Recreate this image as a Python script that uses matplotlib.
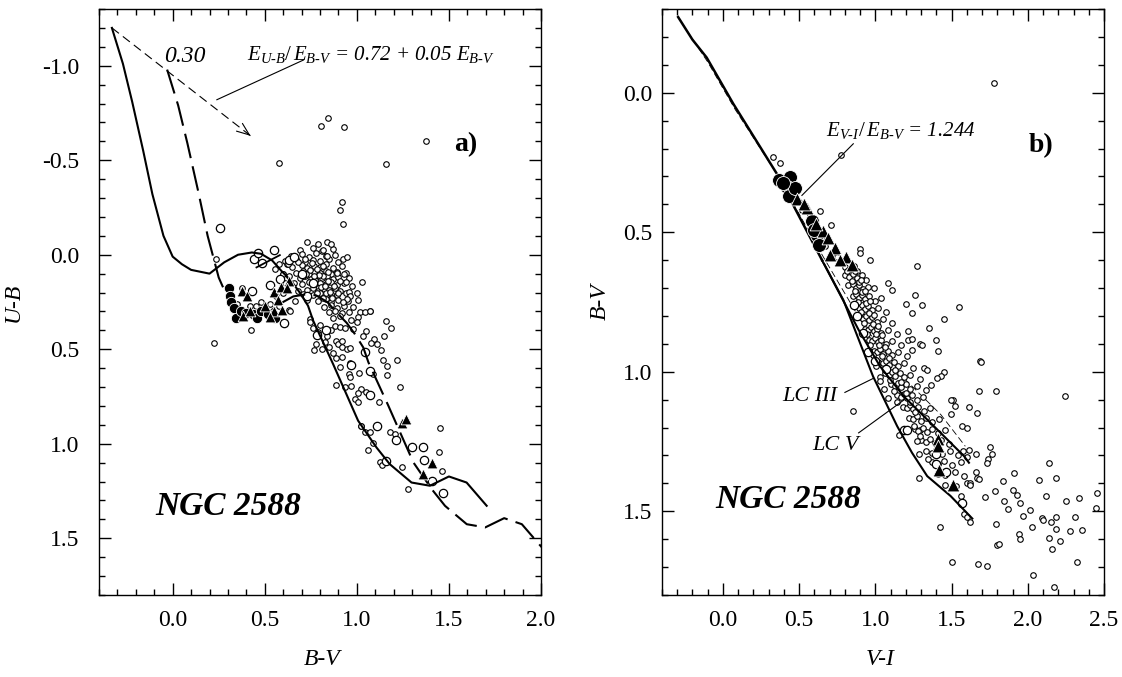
import matplotlib
matplotlib.use('Agg')
import matplotlib.pyplot as plt
from matplotlib.ticker import MultipleLocator, FormatStrFormatter

plt.rcParams['font.family'] = ['Liberation Serif', 'DejaVu Serif']
plt.rcParams['mathtext.fontset'] = 'custom'
plt.rcParams['mathtext.rm'] = 'Liberation Serif'
plt.rcParams['mathtext.it'] = 'Liberation Serif:italic'
plt.rcParams['mathtext.bf'] = 'Liberation Serif:bold'
plt.rcParams['axes.unicode_minus'] = False

# ---------------- Panel a data (B-V, U-B) ----------------
E_BV = 0.30
zams_bv = [-0.33, -0.27, -0.22, -0.16, -0.11, -0.05, 0.00, 0.05, 0.10, 0.20, 0.28, 0.355, 0.43, 0.48,
           0.54, 0.59, 0.645, 0.69, 0.735, 0.763, 0.871, 1.007, 1.107, 1.179, 1.297, 1.397, 1.50, 1.596, 1.705]
zams_ub = [-1.20, -1.01, -0.81, -0.55, -0.32, -0.10, 0.01, 0.05, 0.08, 0.10, 0.04, 0.00, -0.012, -0.005,
           0.03, 0.085, 0.14, 0.20, 0.27, 0.349, 0.578, 0.878, 1.02, 1.108, 1.205, 1.222, 1.173, 1.205, 1.328]
extra_seg_bv = [0.455, 0.582]
extra_seg_ub = [0.067, 0.002]
arrow_start = (-0.33, -1.20)
arrow_end = (0.435, -0.62)

a_open_small = [
    (0.578, -0.485), (0.804, -0.679), (0.844, -0.723), (0.933, -0.674), (1.156, -0.478), (1.373, -0.601),
    (0.920, -0.280), (0.911, -0.238), (0.926, -0.160), (0.859, -0.055), (0.817, -0.025), (0.840, 0.005),
    (0.225, 0.467), (0.234, 0.023), (0.428, 0.400), (0.379, 0.176), (0.632, 0.293),
    (1.027, 0.146), (1.000, 0.205), (1.007, 0.240), (1.074, 0.300), (0.975, 0.168), (0.940, 0.146),
    (0.893, 0.097), (0.958, 0.196), (0.962, 0.217), (0.947, 0.235), (0.926, 0.252), (0.980, 0.279),
    (0.957, 0.302), (1.016, 0.302), (1.045, 0.305), (1.071, 0.300), (1.004, 0.331), (0.971, 0.345),
    (0.926, 0.023), (0.947, 0.014), (0.663, 0.243), (0.636, 0.296), (0.745, 0.340),
    (0.744, 0.358), (0.766, 0.504), (0.826, 0.459), (0.880, 0.379), (0.908, 0.384), (0.935, 0.388),
    (0.980, 0.393), (1.002, 0.358), (1.049, 0.402), (1.031, 0.429), (1.093, 0.446), (1.076, 0.469),
    (1.111, 0.473), (1.149, 0.429), (1.183, 0.388), (1.156, 0.353), (1.131, 0.505), (1.143, 0.557),
    (1.216, 0.557), (1.165, 0.587), (1.165, 0.635), (1.236, 0.702), (1.122, 0.781), (0.889, 0.455),
    (0.899, 0.473), (0.917, 0.455), (0.917, 0.490), (0.944, 0.499), (0.962, 0.494), (0.889, 0.548),
    (0.920, 0.543), (0.908, 0.592), (0.962, 0.575), (0.958, 0.631), (0.962, 0.649), (1.013, 0.628),
    (1.089, 0.632), (0.889, 0.689), (0.935, 0.698), (0.967, 0.693), (1.020, 0.710), (1.049, 0.725),
    (1.009, 0.734), (0.989, 0.764), (1.007, 0.778), (1.025, 0.905), (1.044, 0.940), (1.071, 0.940),
    (1.179, 0.940), (1.208, 0.949), (1.090, 0.998), (1.060, 1.032), (1.128, 1.099), (1.139, 1.111),
    (1.243, 1.125), (1.279, 1.240), (1.447, 1.042), (1.465, 1.146), (1.451, 0.919), (1.022, 0.907),
    (0.760, 0.390), (0.790, 0.410), (0.800, 0.370), (0.840, 0.430), (0.860, 0.400), (0.780, 0.470),
    (0.810, 0.500), (0.850, 0.490), (0.870, 0.520),
    (0.350, 0.260), (0.450, 0.270), (0.480, 0.250), (0.530, 0.260), (0.560, 0.220), (0.580, 0.270),
    (0.600, 0.200), (0.500, 0.290), (0.420, 0.270), (0.554, 0.074), (0.609, 0.150), (0.627, 0.050),
    (0.580, 0.050), (0.600, 0.100),
]
a_cluster = [
    (0.73, -0.065), (0.79, -0.055), (0.84, -0.07),
    (0.69, -0.025), (0.76, -0.035), (0.81, -0.02), (0.87, -0.03),
    (0.64, 0.005), (0.70, -0.005), (0.74, 0.01), (0.78, -0.01), (0.83, 0.005), (0.88, 0.0),
    (0.61, 0.035), (0.67, 0.025), (0.72, 0.04), (0.76, 0.03), (0.80, 0.035), (0.85, 0.025), (0.90, 0.04),
    (0.65, 0.065), (0.70, 0.055), (0.73, 0.07), (0.77, 0.06), (0.80, 0.065), (0.83, 0.05), (0.87, 0.07), (0.92, 0.06),
    (0.67, 0.095), (0.71, 0.085), (0.74, 0.10), (0.77, 0.09), (0.80, 0.095), (0.83, 0.085), (0.86, 0.10),
    (0.89, 0.09), (0.94, 0.095),
    (0.69, 0.125), (0.72, 0.115), (0.75, 0.13), (0.78, 0.12), (0.81, 0.125), (0.84, 0.115), (0.87, 0.13),
    (0.90, 0.12), (0.96, 0.125),
    (0.70, 0.155), (0.74, 0.145), (0.77, 0.16), (0.80, 0.15), (0.83, 0.155), (0.86, 0.145), (0.89, 0.16), (0.93, 0.15),
    (0.73, 0.185), (0.76, 0.175), (0.79, 0.19), (0.82, 0.18), (0.85, 0.185), (0.88, 0.175), (0.91, 0.19),
    (0.76, 0.215), (0.80, 0.205), (0.83, 0.22), (0.86, 0.21), (0.89, 0.215), (0.94, 0.205),
    (0.79, 0.245), (0.83, 0.235), (0.86, 0.25), (0.90, 0.24), (0.95, 0.245),
    (0.82, 0.275), (0.86, 0.265), (0.89, 0.28), (0.93, 0.27),
    (0.85, 0.305), (0.88, 0.295), (0.92, 0.31),
    (0.87, 0.335), (0.91, 0.325),
    (0.755, 0.045), (0.785, 0.075), (0.815, 0.11), (0.845, 0.14), (0.775, 0.135), (0.805, 0.17),
    (0.835, 0.20), (0.745, 0.08), (0.795, 0.105), (0.825, 0.165), (0.855, 0.195), (0.865, 0.23),
    (0.875, 0.165), (0.725, 0.10), (0.705, 0.11), (0.815, 0.06), (0.765, 0.11), (0.845, 0.09),
    (0.785, 0.20), (0.815, 0.23), (0.68, 0.04), (0.72, 0.02), (0.90, 0.20), (0.91, 0.14), (0.93, 0.10),
    (0.62, 0.05), (0.60, 0.10), (0.63, 0.11), (0.66, 0.15), (0.68, 0.19), (0.71, 0.21), (0.73, 0.24),
]
a_open_large = [
    (0.255, -0.140), (0.551, -0.026), (0.442, 0.023), (0.464, -0.007), (0.485, 0.044), (0.527, 0.159),
    (0.431, 0.194), (0.605, 0.363), (0.629, 0.028), (0.582, 0.129), (0.781, 0.423), (0.832, 0.397),
    (0.971, 0.584), (1.071, 0.614), (1.074, 0.741), (1.111, 0.905), (1.215, 0.980), (1.158, 1.090),
    (1.297, 1.019), (1.360, 1.016), (1.364, 1.086), (1.409, 1.196), (1.469, 1.258), (1.044, 0.513),
    (0.70, 0.10), (0.76, 0.15), (0.73, 0.22), (0.66, 0.01),
]
a_filled = [
    (0.306, 0.176), (0.313, 0.220), (0.319, 0.252), (0.332, 0.282), (0.346, 0.332), (0.373, 0.296),
    (0.400, 0.310), (0.437, 0.314), (0.460, 0.332), (0.477, 0.300), (0.518, 0.314), (0.554, 0.337),
]
a_tri = [
    (0.377, 0.194), (0.404, 0.220), (0.382, 0.323), (0.422, 0.296), (0.504, 0.270), (0.550, 0.300),
    (0.551, 0.196), (0.573, 0.240), (0.530, 0.330), (0.596, 0.293), (0.629, 0.138), (0.587, 0.169),
    (0.623, 0.178), (1.243, 0.892), (1.266, 0.869), (1.409, 1.104), (1.357, 1.160),
]

# ---------------- Panel b data (V-I, B-V) ----------------
seq_vi = [-0.294, -0.20, -0.107, 0.068, 0.353, 0.65]
seq_bv = [-0.271, -0.19, -0.126, 0.040, 0.290, 0.60]
lc3_vi = [0.65, 0.79, 0.866, 0.985, 1.143, 1.24, 1.34, 1.493, 1.636]
lc3_bv = [0.60, 0.743, 0.85, 1.017, 1.195, 1.29, 1.374, 1.445, 1.526]
lc5_vi = [0.65, 0.89, 1.03, 1.186, 1.406, 1.581, 1.614]
lc5_bv = [0.60, 0.85, 0.98, 1.088, 1.207, 1.302, 1.326]
thin_vi = [-0.27, -0.10, 0.08, 0.34, 0.66, 0.93, 1.20, 1.43, 1.59]
thin_bv = [-0.25, -0.11, 0.06, 0.28, 0.59, 0.84, 1.03, 1.154, 1.267]

b_open_small = [
    (0.331, 0.229), (0.375, 0.252), (0.634, 0.425), (0.708, 0.473), (0.897, 0.559), (0.897, 0.573),
    (0.966, 0.600), (1.081, 0.681), (1.112, 0.707), (1.274, 0.621), (1.257, 0.725), (0.774, 0.223),
    (1.775, -0.035), (2.245, 1.088),
    (1.204, 0.757), (1.309, 0.762), (1.241, 0.788), (1.548, 0.769), (1.450, 0.811), (1.353, 0.844),
    (1.397, 0.886), (1.213, 0.853), (1.215, 0.886), (1.243, 0.882), (1.291, 0.900), (1.309, 0.904),
    (1.414, 0.924), (1.241, 0.922), (1.684, 0.961), (1.695, 0.965), (1.789, 1.069), (1.680, 1.069),
    (1.616, 1.126), (1.669, 1.148), (1.450, 1.000), (1.428, 1.015), (1.406, 1.023), (1.366, 1.047),
    (1.318, 0.987), (1.340, 0.995), (1.511, 1.100), (1.493, 1.102), (1.522, 1.124), (1.493, 1.153),
    (1.570, 1.195), (1.599, 1.201), (1.033, 1.032), (0.855, 1.139),
    (1.752, 1.269), (1.768, 1.293), (1.739, 1.314), (1.735, 1.326), (2.141, 1.326), (2.075, 1.387),
    (2.184, 1.381), (1.840, 1.392), (1.910, 1.362), (1.787, 1.426), (1.717, 1.450), (1.906, 1.425),
    (1.927, 1.440), (1.844, 1.464), (1.871, 1.492), (1.951, 1.470), (2.015, 1.494), (1.967, 1.517),
    (2.120, 1.447), (2.248, 1.462), (2.336, 1.451), (2.452, 1.436), (2.445, 1.488), (2.309, 1.519),
    (2.184, 1.522), (2.096, 1.523), (2.100, 1.530), (2.153, 1.540), (2.182, 1.562), (2.136, 1.594),
    (2.212, 1.605), (2.274, 1.571), (2.357, 1.568), (2.029, 1.556), (1.943, 1.580), (1.950, 1.600),
    (1.800, 1.621), (1.811, 1.618), (1.794, 1.545), (2.160, 1.634), (1.423, 1.556), (1.504, 1.683),
    (1.673, 1.689), (1.730, 1.695), (2.322, 1.683), (2.035, 1.729), (2.169, 1.770),
    (1.660, 1.293), (1.603, 1.307), (1.614, 1.282), (1.575, 1.284), (1.669, 1.380), (1.680, 1.386),
    (1.658, 1.359), (1.620, 1.398), (1.620, 1.406), (1.560, 1.445), (1.582, 1.511), (1.599, 1.519),
    (1.618, 1.538), (1.289, 1.382), (1.289, 1.294), (1.348, 1.312), (1.154, 1.225), (1.252, 1.195),
    (1.281, 1.213), (1.292, 1.231), (1.270, 1.249),
    (0.50, 0.39), (0.52, 0.42), (0.57, 0.44), (0.64, 0.52), (0.67, 0.55), (0.72, 0.57), (0.75, 0.59),
]
b_band = [
    (0.80, 0.625), (0.83, 0.63), (0.86, 0.62), (0.88, 0.64),
    (0.80, 0.655), (0.83, 0.66), (0.85, 0.65), (0.88, 0.665), (0.91, 0.655), (0.94, 0.67),
    (0.82, 0.69), (0.85, 0.685), (0.87, 0.70), (0.89, 0.69), (0.92, 0.705), (0.95, 0.695), (0.99, 0.70),
    (0.85, 0.73), (0.87, 0.72), (0.89, 0.735), (0.91, 0.725), (0.93, 0.74), (0.96, 0.73), (1.00, 0.745), (1.04, 0.735),
    (0.87, 0.765), (0.89, 0.77), (0.91, 0.76), (0.93, 0.775), (0.95, 0.765), (0.98, 0.78), (1.02, 0.77), (1.07, 0.785),
    (0.90, 0.805), (0.92, 0.81), (0.94, 0.80), (0.96, 0.815), (0.98, 0.805), (1.01, 0.82), (1.05, 0.81), (1.11, 0.825),
    (0.93, 0.845), (0.95, 0.85), (0.97, 0.84), (0.99, 0.855), (1.01, 0.845), (1.04, 0.86), (1.08, 0.85), (1.14, 0.865),
    (0.96, 0.885), (0.98, 0.89), (1.00, 0.88), (1.02, 0.895), (1.04, 0.885), (1.07, 0.90), (1.11, 0.89), (1.17, 0.905),
    (0.99, 0.925), (1.01, 0.93), (1.03, 0.92), (1.05, 0.935), (1.08, 0.925), (1.11, 0.94), (1.15, 0.93), (1.21, 0.945),
    (1.02, 0.965), (1.05, 0.97), (1.07, 0.96), (1.09, 0.975), (1.12, 0.965), (1.15, 0.98), (1.19, 0.97), (1.25, 0.985),
    (1.06, 1.005), (1.09, 1.01), (1.11, 1.00), (1.13, 1.015), (1.16, 1.005), (1.19, 1.02), (1.23, 1.01), (1.29, 1.025),
    (1.10, 1.045), (1.13, 1.05), (1.15, 1.04), (1.17, 1.055), (1.20, 1.045), (1.23, 1.06), (1.27, 1.05), (1.33, 1.065),
    (1.14, 1.085), (1.17, 1.09), (1.19, 1.08), (1.21, 1.095), (1.24, 1.085), (1.27, 1.10), (1.31, 1.09),
    (1.18, 1.125), (1.21, 1.13), (1.23, 1.12), (1.25, 1.135), (1.28, 1.125), (1.32, 1.14), (1.36, 1.13),
    (1.22, 1.165), (1.25, 1.17), (1.27, 1.16), (1.30, 1.175), (1.33, 1.165), (1.37, 1.18), (1.42, 1.17),
    (1.26, 1.205), (1.29, 1.21), (1.31, 1.20), (1.34, 1.215), (1.37, 1.205), (1.41, 1.22), (1.46, 1.21),
    (1.30, 1.245), (1.33, 1.25), (1.36, 1.24), (1.39, 1.255), (1.43, 1.245), (1.48, 1.26),
    (1.33, 1.285), (1.37, 1.29), (1.40, 1.28), (1.44, 1.295), (1.49, 1.285), (1.54, 1.30),
    (1.37, 1.325), (1.41, 1.33), (1.45, 1.32), (1.50, 1.335), (1.56, 1.325),
    (1.41, 1.365), (1.46, 1.37), (1.52, 1.36), (1.58, 1.375),
    (1.46, 1.405), (1.53, 1.41), (1.60, 1.40),
    (0.815, 0.64), (0.845, 0.675), (0.865, 0.71), (0.885, 0.75), (0.905, 0.785), (0.925, 0.825),
    (0.945, 0.865), (0.965, 0.905), (0.985, 0.94), (1.005, 0.98), (1.03, 1.02), (1.055, 1.06),
    (1.08, 1.095), (0.865, 0.64), (0.895, 0.68), (0.915, 0.715), (0.94, 0.755), (0.96, 0.79),
    (0.985, 0.83), (1.005, 0.865), (1.025, 0.905), (1.045, 0.945), (1.07, 0.985), (1.095, 1.03),
    (1.12, 1.07), (1.145, 1.11), (0.905, 0.67), (0.935, 0.71), (0.965, 0.745), (0.99, 0.795),
    (1.02, 0.835), (1.045, 0.87), (1.065, 0.91), (1.09, 0.95), (1.13, 0.995), (1.17, 1.035),
    (1.20, 1.075), (1.23, 1.11), (1.26, 1.145),
]
b_open_large = [
    (0.86, 0.76), (0.88, 0.80), (0.92, 0.86), (0.95, 0.93), (1.00, 0.96), (1.07, 0.99), (1.19, 1.21),
    (1.21, 1.21), (1.571, 1.469), (1.395, 1.296), (1.461, 1.360), (1.40, 1.33),
]
b_filled = [
    (0.370, 0.312), (0.441, 0.302), (0.419, 0.338), (0.430, 0.371), (0.474, 0.340), (0.583, 0.459),
    (0.616, 0.511), (0.629, 0.546), (0.599, 0.493), (0.395, 0.325),
]
b_tri = [
    (0.485, 0.380), (0.553, 0.412), (0.530, 0.398), (0.656, 0.496), (0.686, 0.519), (0.737, 0.558),
    (0.700, 0.582), (0.809, 0.588), (0.847, 0.618), (0.770, 0.600), (0.610, 0.470),
    (1.410, 1.240), (1.410, 1.265), (1.417, 1.352), (1.511, 1.407),
]


def xs(pts):
    return [p[0] for p in pts]


def ys(pts):
    return [p[1] for p in pts]


fig = plt.figure(figsize=(11.22, 6.77), dpi=100)
W, H = 1122.0, 677.0
axA = fig.add_axes([99 / W, 1 - 595 / H, 442 / W, 586 / H])
axB = fig.add_axes([662 / W, 1 - 595 / H, 442 / W, 586 / H])


def style(ax, ypad):
    ax.xaxis.set_major_locator(MultipleLocator(0.5))
    ax.xaxis.set_minor_locator(MultipleLocator(0.1))
    ax.yaxis.set_major_locator(MultipleLocator(0.5))
    ax.yaxis.set_minor_locator(MultipleLocator(0.1))
    ax.xaxis.set_major_formatter(FormatStrFormatter('%.1f'))
    ax.yaxis.set_major_formatter(FormatStrFormatter('%.1f'))
    ax.tick_params(which='both', direction='in', top=True, right=True, width=1.0, labelsize=17)
    ax.tick_params(which='major', length=8.5)
    ax.tick_params(which='minor', length=4.3)
    ax.tick_params(axis='x', pad=11)
    ax.tick_params(axis='y', pad=ypad)
    for s in ax.spines.values():
        s.set_linewidth(1.0)


def open_pts(ax, pts, s, lw=0.8, z=2):
    ax.scatter(xs(pts), ys(pts), s=s, facecolors='white', edgecolors='black', linewidths=lw, zorder=z)


# ---------------- Panel a ----------------
ax = axA
ax.set_xlim(-0.4, 2.0)
ax.set_ylim(1.8, -1.3)
style(ax, 14)

ax.plot(zams_bv, zams_ub, color='black', lw=1.5, zorder=3)
E_UB = E_BV * (0.72 + 0.05 * E_BV)
ax.plot([v + E_BV for v in zams_bv], [u + E_UB for u in zams_ub], color='black', lw=1.5,
        dashes=(12, 4), zorder=3)
ax.plot(extra_seg_bv, extra_seg_ub, color='black', lw=1.3, zorder=3)
ax.plot([arrow_start[0], arrow_end[0]], [arrow_start[1], arrow_end[1]], color='black', lw=0.8,
        dashes=(8, 4.5), zorder=3)
ax.annotate('', xy=arrow_end, xytext=(arrow_end[0] - 0.04, arrow_end[1] - 0.03),
            arrowprops=dict(arrowstyle='->,head_length=0.9,head_width=0.35', lw=0.8, color='black'))
ax.plot([0.71, 0.24], [-1.03, -0.82], color='black', lw=0.8)

open_pts(ax, a_cluster, 16)
open_pts(ax, a_open_small, 16)
open_pts(ax, a_open_large, 36, 0.9)
ax.scatter(xs(a_filled), ys(a_filled), s=55, c='black', edgecolors='white', linewidths=0.6, zorder=4)
ax.scatter(xs(a_tri), ys(a_tri), s=60, marker='^', c='black', edgecolors='white', linewidths=0.6, zorder=4)

ax.text(0.065, -1.05, '0.30', fontsize=17, style='italic', ha='center', va='center')
ax.text(1.076, -1.06, r'$E_{U\text{-}B}/\,E_{B\text{-}V}$ = 0.72 + 0.05 $E_{B\text{-}V}$', fontsize=15,
        style='italic', ha='center', va='center')
ax.text(1.59, -0.58, 'a)', fontsize=20, weight='bold', ha='center', va='center')
ax.text(0.30, 1.33, 'NGC 2588', fontsize=24, weight='bold', style='italic', ha='center', va='center')
ax.set_xlabel('B-V', fontsize=17, style='italic')
ax.set_ylabel('U-B', fontsize=17, style='italic')
ax.xaxis.set_label_coords(0.505, -0.092)
ax.yaxis.set_label_coords(-0.17, 0.5)

# ---------------- Panel b ----------------
ax = axB
ax.set_xlim(-0.4, 2.5)
ax.set_ylim(1.8, -0.3)
style(ax, 7)

ax.plot(thin_vi, thin_bv, color='black', lw=0.6, dashes=(8, 4), zorder=1)
ax.plot(seq_vi, seq_bv, color='black', lw=1.8, zorder=3)
ax.plot(lc3_vi, lc3_bv, color='black', lw=1.5, zorder=3)
ax.plot(lc5_vi, lc5_bv, color='black', lw=1.5, zorder=3)

open_pts(ax, b_band, 16)
open_pts(ax, b_open_small, 16)
open_pts(ax, b_open_large, 36, 0.9)
ax.scatter(xs(b_filled), ys(b_filled), s=100, c='black', edgecolors='white', linewidths=0.6, zorder=4)
ax.scatter(xs(b_tri), ys(b_tri), s=85, marker='^', c='black', edgecolors='white', linewidths=0.6, zorder=4)

ax.plot([0.855, 0.518], [0.183, 0.368], color='black', lw=0.8, zorder=5)
ax.plot([0.80, 0.989], [1.074, 1.023], color='black', lw=0.8, zorder=5)
ax.plot([0.89, 1.19], [1.219, 1.10], color='black', lw=0.8, zorder=5)

ax.text(1.164, 0.136, r'$E_{V\text{-}I}/\,E_{B\text{-}V}$ = 1.244', fontsize=15, style='italic',
        ha='center', va='center')
ax.text(2.09, 0.19, 'b)', fontsize=20, weight='bold', ha='center', va='center')
ax.text(0.57, 1.09, 'LC III', fontsize=16, style='italic', ha='center', va='center')
ax.text(0.737, 1.264, 'LC V', fontsize=16, style='italic', ha='center', va='center')
ax.text(0.43, 1.457, 'NGC 2588', fontsize=24, weight='bold', style='italic', ha='center', va='center')
ax.set_xlabel('V-I', fontsize=17, style='italic')
ax.set_ylabel('B-V', fontsize=17, style='italic')
ax.xaxis.set_label_coords(0.493, -0.092)
ax.yaxis.set_label_coords(-0.115, 0.5)

fig.savefig('out.png', dpi=100)
